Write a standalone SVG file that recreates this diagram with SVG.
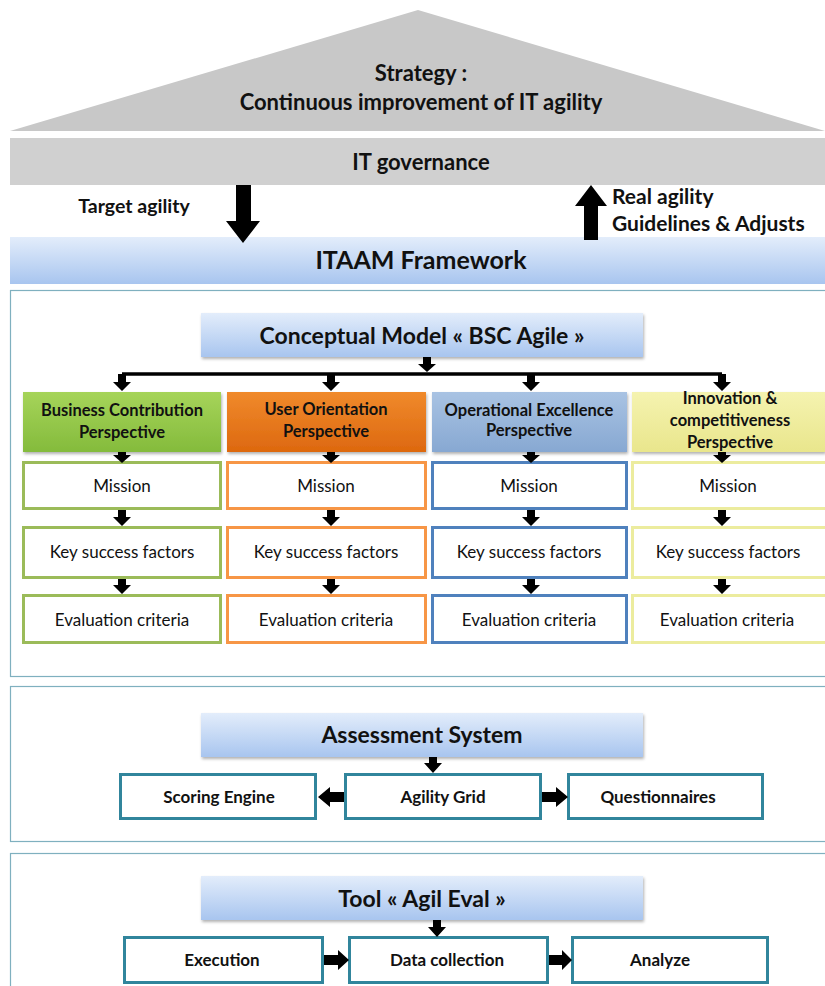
<svg xmlns="http://www.w3.org/2000/svg" width="825" height="986" viewBox="0 0 825 986">
<defs>
<linearGradient id="blueg" x1="0" y1="0" x2="0" y2="1"><stop offset="0" stop-color="#e3edfb"/><stop offset="1" stop-color="#a8c5ef"/></linearGradient>
<linearGradient id="greeng" x1="0" y1="0" x2="0" y2="1"><stop offset="0" stop-color="#a6d45a"/><stop offset="1" stop-color="#84bb3c"/></linearGradient>
<linearGradient id="orangeg" x1="0" y1="0" x2="0" y2="1"><stop offset="0" stop-color="#f08a2c"/><stop offset="1" stop-color="#dd680f"/></linearGradient>
<linearGradient id="bluepg" x1="0" y1="0" x2="0" y2="1"><stop offset="0" stop-color="#a9c3e3"/><stop offset="1" stop-color="#87a8d2"/></linearGradient>
<linearGradient id="yellowg" x1="0" y1="0" x2="0" y2="1"><stop offset="0" stop-color="#f5f3b0"/><stop offset="1" stop-color="#e9e68c"/></linearGradient>
<filter id="sh" x="-5%" y="-10%" width="110%" height="130%"><feDropShadow dx="1" dy="2" stdDeviation="1.5" flood-color="#000" flood-opacity="0.3"/></filter>
</defs>
<style>
text{font-family:Lato,"Open Sans","Liberation Sans",sans-serif;fill:#111;text-anchor:middle}
.b{font-weight:bold}
.h{font-size:22px;font-weight:bold}
.t{font-size:23px;font-weight:bold}
.p{font-size:16.5px;font-weight:bold}
.n{font-size:17px}
.s{font-size:17px;font-weight:bold}
.sec{fill:#fff;stroke:#7fb0bf;stroke-width:1.2}
.g{fill:#fff;stroke:#9bbb59;stroke-width:3}
.o{fill:#fff;stroke:#f79646;stroke-width:3}
.bl{fill:#fff;stroke:#4f81bd;stroke-width:3}
.y{fill:#fff;stroke:#ecec9e;stroke-width:3}
.tb{fill:#fff;stroke:#31859c;stroke-width:3}
.ar{fill:#000}
.ln{stroke:#000;stroke-width:3.5;fill:none}
</style>

<g id="strategy">
<polygon points="418,10 10,131 825,131" fill="#c8c8c8"/>
<text class="h" x="421" y="81">Strategy :</text>
<text class="h" x="421" y="110">Continuous  improvement of IT agility</text>
</g>
<g id="governance">
<rect x="10" y="138" width="815" height="47" fill="#d0d0d0"/>
<text class="h" x="421" y="170">IT governance</text>
</g>
<g id="labels">
<text class="b" x="134" y="213" style="font-size:19.5px">Target agility</text>
<text class="b" x="612" y="204" style="font-size:21px;text-anchor:start">Real agility</text>
<text class="b" x="612" y="231" style="font-size:21px;text-anchor:start">Guidelines &amp; Adjusts</text>
</g>
<g id="itaam">
<rect x="10" y="237" width="815" height="47" fill="url(#blueg)"/>
<text class="b" x="421" y="269" style="font-size:25px">ITAAM Framework</text>
</g>

<g id="section-conceptual"><rect class="sec" x="10.5" y="290.5" width="820" height="386"/></g>
<g id="section-assessment"><rect class="sec" x="10.5" y="686.5" width="820" height="155"/></g>
<g id="section-tool"><rect class="sec" x="10.5" y="853.5" width="820" height="140"/></g>

<g id="conceptual-model">
<rect x="201" y="313" width="442" height="44" fill="url(#blueg)" filter="url(#sh)"/>
<text class="t" x="422" y="344">Conceptual  Model « BSC Agile »</text>
</g>

<g id="business">
<rect x="23" y="392" width="198" height="60" fill="url(#greeng)" filter="url(#sh)"/>
<text class="p" x="122" y="416">Business Contribution</text>
<text class="p" x="122" y="438">Perspective</text>
</g>
<g id="user">
<rect x="227" y="392" width="199" height="60" fill="url(#orangeg)" filter="url(#sh)"/>
<text class="p" x="326" y="415">User Orientation</text>
<text class="p" x="326" y="437">Perspective</text>
</g>
<g id="operational">
<rect x="432" y="392" width="195" height="60" fill="url(#bluepg)" filter="url(#sh)"/>
<text class="p" x="529" y="416">Operational Excellence</text>
<text class="p" x="529" y="436">Perspective</text>
</g>
<g id="innovation">
<rect x="632" y="392" width="193" height="60" fill="url(#yellowg)" filter="url(#sh)"/>
<text class="p" x="730" y="404">Innovation &amp;</text>
<text class="p" x="730" y="426">competitiveness</text>
<text class="p" x="730" y="448">Perspective</text>
</g>

<g id="mission-g"><rect class="g" x="23.5" y="462.5" width="197" height="46"/><text class="n" x="122" y="492">Mission</text></g>
<g id="ksf-g"><rect class="g" x="23.5" y="527.5" width="197" height="50"/><text class="n" x="122" y="558">Key success factors</text></g>
<g id="eval-g"><rect class="g" x="23.5" y="595.5" width="197" height="47"/><text class="n" x="122" y="626">Evaluation criteria</text></g>

<g id="mission-o"><rect class="o" x="227.5" y="462.5" width="198" height="46"/><text class="n" x="326" y="492">Mission</text></g>
<g id="ksf-o"><rect class="o" x="227.5" y="527.5" width="198" height="50"/><text class="n" x="326" y="558">Key success factors</text></g>
<g id="eval-o"><rect class="o" x="227.5" y="595.5" width="198" height="47"/><text class="n" x="326" y="626">Evaluation criteria</text></g>

<g id="mission-b"><rect class="bl" x="432.5" y="462.5" width="194" height="46"/><text class="n" x="529" y="492">Mission</text></g>
<g id="ksf-b"><rect class="bl" x="432.5" y="527.5" width="194" height="50"/><text class="n" x="529" y="558">Key success factors</text></g>
<g id="eval-b"><rect class="bl" x="432.5" y="595.5" width="194" height="47"/><text class="n" x="529" y="626">Evaluation criteria</text></g>

<g id="mission-y"><rect class="y" x="632.5" y="462.5" width="200" height="46"/><text class="n" x="728" y="492">Mission</text></g>
<g id="ksf-y"><rect class="y" x="632.5" y="527.5" width="200" height="50"/><text class="n" x="728" y="558">Key success factors</text></g>
<g id="eval-y"><rect class="y" x="632.5" y="595.5" width="200" height="47"/><text class="n" x="727" y="626">Evaluation criteria</text></g>

<g id="assessment-system">
<rect x="201" y="713" width="442" height="44" fill="url(#blueg)" filter="url(#sh)"/>
<text class="t" x="422" y="743">Assessment System</text>
</g>
<g id="scoring"><rect class="tb" x="120.5" y="774.5" width="195" height="44"/><text class="s" x="219" y="803">Scoring Engine</text></g>
<g id="grid"><rect class="tb" x="345.5" y="774.5" width="195" height="44"/><text class="s" x="443" y="803">Agility Grid</text></g>
<g id="questionnaires"><rect class="tb" x="568.5" y="774.5" width="194" height="44"/><text class="s" x="658" y="803">Questionnaires</text></g>

<g id="tool">
<rect x="201" y="876" width="442" height="44" fill="url(#blueg)" filter="url(#sh)"/>
<text class="t" x="422" y="907">Tool « Agil Eval »</text>
</g>
<g id="execution"><rect class="tb" x="124.5" y="937.5" width="198" height="45"/><text class="s" x="222" y="966">Execution</text></g>
<g id="datacollection"><rect class="tb" x="349.5" y="937.5" width="198" height="45"/><text class="s" x="447" y="966">Data collection</text></g>
<g id="analyze"><rect class="tb" x="572.5" y="937.5" width="195" height="45"/><text class="s" x="660" y="966">Analyze</text></g>

<g id="connectors">
<polygon class="ar" points="236,185 251,185 251,221 260,221 243,243 226,221 236,221"/>
<polygon class="ar" points="584,240 598,240 598,206 607,206 591,185 575,206 584,206"/>
<polygon class="ar" points="423,357 431,357 431,364 436,364 427,372 418,364 423,364"/>
<path class="ln" d="M122,374 H722"/>
<polygon class="ar" points="118,374 126,374 126,382 131,382 122,391 113,382 118,382"/>
<polygon class="ar" points="327,374 335,374 335,382 340,382 331,391 322,382 327,382"/>
<polygon class="ar" points="527,374 535,374 535,382 540,382 531,391 522,382 527,382"/>
<polygon class="ar" points="718,374 726,374 726,382 731,382 722,391 713,382 718,382"/>
<polygon class="ar" points="118,452 126,452 126,455 131,455 122,463 113,455 118,455"/>
<polygon class="ar" points="327,452 335,452 335,455 340,455 331,463 322,455 327,455"/>
<polygon class="ar" points="527,452 535,452 535,455 540,455 531,463 522,455 527,455"/>
<polygon class="ar" points="718,452 726,452 726,455 731,455 722,463 713,455 718,455"/>
<polygon class="ar" points="118,510 126,510 126,517 131,517 122,526 113,517 118,517"/>
<polygon class="ar" points="327,510 335,510 335,517 340,517 331,526 322,517 327,517"/>
<polygon class="ar" points="527,510 535,510 535,517 540,517 531,526 522,517 527,517"/>
<polygon class="ar" points="718,510 726,510 726,517 731,517 722,526 713,517 718,517"/>
<polygon class="ar" points="118,579 126,579 126,585 131,585 122,594 113,585 118,585"/>
<polygon class="ar" points="327,579 335,579 335,585 340,585 331,594 322,585 327,585"/>
<polygon class="ar" points="527,579 535,579 535,585 540,585 531,594 522,585 527,585"/>
<polygon class="ar" points="718,579 726,579 726,585 731,585 722,594 713,585 718,585"/>
<polygon class="ar" points="429,757 437,757 437,763 442,763 433,773 424,763 429,763"/>
<polygon class="ar" points="344,792 330,792 330,787 318,797 330,807 330,802 344,802"/>
<polygon class="ar" points="542,792 556,792 556,787 568,797 556,807 556,802 542,802"/>
<polygon class="ar" points="433,920 441,920 441,927 446,927 437,937 428,927 433,927"/>
<polygon class="ar" points="324,955 338,955 338,950 349,960 338,970 338,965 324,965"/>
<polygon class="ar" points="549,955 562,955 562,950 572,960 562,970 562,965 549,965"/>
</g>
</svg>
